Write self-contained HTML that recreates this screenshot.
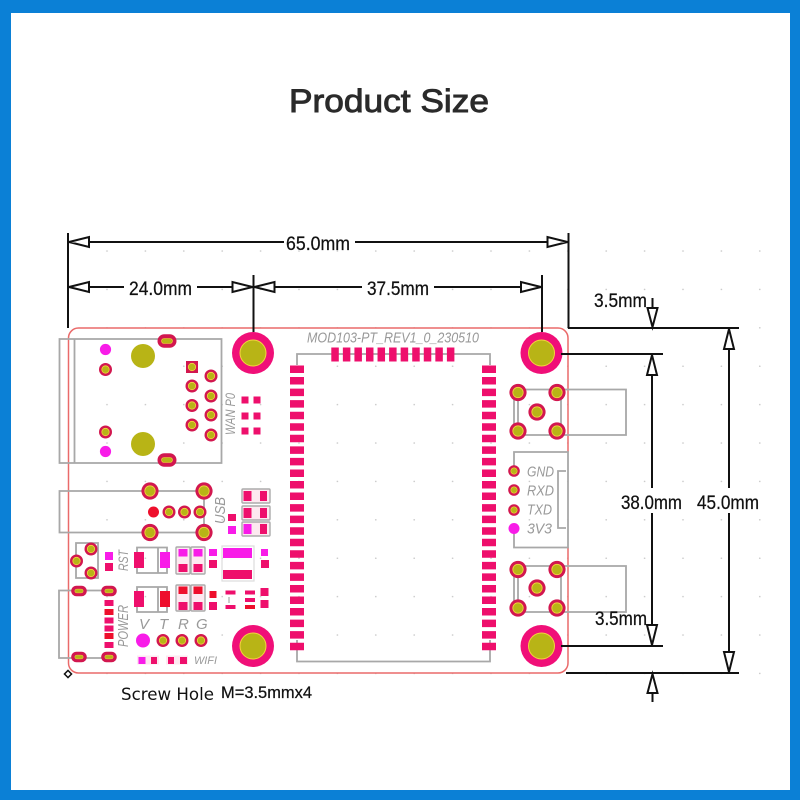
<!DOCTYPE html>
<html>
<head>
<meta charset="utf-8">
<style>
html,body{margin:0;padding:0;background:#fff}
svg{display:block}
.g{fill:none;stroke:#a8a8a8;stroke-width:1.8}
.d{fill:none;stroke:#111;stroke-width:2}
.a{fill:#fff;stroke:#111;stroke-width:2;stroke-linejoin:miter}
.c{fill:#ee0f6c}.m{fill:#f81ce8}.r{fill:#ee0f2c}
.b{fill:#fde9f0;stroke:#ababab;stroke-width:1.4}
.t{font-family:"Liberation Sans",sans-serif;font-style:italic;fill:#999}
.k{font-family:"Liberation Sans",sans-serif;font-size:19.500px;fill:#111;stroke:#111;stroke-width:.25}
</style>
</head>
<body>
<svg width="800" height="800" viewBox="0 0 800 800" xmlns="http://www.w3.org/2000/svg">
<defs>
<g id="p"><circle r="6.500" fill="#d2174f"/><circle r="3.700" fill="#b8b416" stroke="#f5d340" stroke-width=".8"/></g>
<g id="q"><circle r="8.600" fill="#d2174f"/><circle r="5.200" fill="#b8b416" stroke="#f5d340" stroke-width=".8"/></g>
<g id="h"><circle r="21" fill="#f00f78"/><circle r="13" fill="#b8b416" stroke="#f5d340" stroke-width="1"/></g>
<g id="o"><rect x="-9.500" y="-6.800" width="19" height="13.600" rx="6.800" fill="#d2174f"/><rect x="-5.500" y="-2.500" width="11" height="5" rx="2.500" fill="#b8b416" stroke="#f5d340" stroke-width=".6"/></g>
<g id="v"><rect x="-7.800" y="-5.300" width="15.600" height="10.600" rx="5.300" fill="#d2174f"/><rect x="-4.200" y="-1.900" width="8.400" height="3.800" rx="1.900" fill="#b8b416" stroke="#f5d340" stroke-width=".5"/></g>
<pattern id="dots" x="87.800" y="231.800" width="38.400" height="38.400" patternUnits="userSpaceOnUse"><circle cx="19.200" cy="19.200" r=".8" fill="#c4c4c4"/></pattern>
</defs>

<rect width="800" height="800" fill="#0b80d6"/>
<rect x="11" y="13" width="779" height="777" fill="#fff"/>

<text x="289" y="112" font-family="'Liberation Sans',sans-serif" font-size="32" fill="#2a2a2a" stroke="#2a2a2a" stroke-width=".9" textLength="200" lengthAdjust="spacingAndGlyphs">Product Size</text>

<rect x="88" y="232" width="692" height="460" fill="url(#dots)"/>

<!-- board outline -->
<path d="M568 452V338a10 10 0 0 0-10-10H78.500a10 10 0 0 0-10 10V663a10 10 0 0 0 10 10H558a10 10 0 0 0 10-10V547" fill="none" stroke="#ea6a6a" stroke-width="1.500"/>

<!-- ethernet -->
<path class="g" d="M59.500 339H221.500V463H59.500ZM74.500 339V463"/>
<circle cx="105.500" cy="349.500" r="5.600" class="m"/><circle cx="105.500" cy="451.500" r="5.600" class="m"/>
<use href="#p" x="105.500" y="369.500"/><use href="#p" x="105.500" y="432"/>
<circle cx="143" cy="356" r="12" fill="#b8b416"/><circle cx="143" cy="444" r="12" fill="#b8b416"/>
<use href="#o" x="167" y="341"/><use href="#o" x="167" y="460"/>
<rect x="186" y="361" width="12" height="12" fill="#d2174f"/><circle cx="192" cy="367" r="3.700" fill="#b8b416" stroke="#f5d340" stroke-width=".8"/>
<use href="#p" x="192" y="386"/><use href="#p" x="192" y="405.500"/><use href="#p" x="192" y="425"/>
<use href="#p" x="211" y="376"/><use href="#p" x="211" y="396"/><use href="#p" x="211" y="415"/><use href="#p" x="211" y="435"/>
<text class="t" font-size="14" transform="translate(235 435) rotate(-90)" textLength="42" lengthAdjust="spacingAndGlyphs">WAN P0</text>
<g class="c">
<rect x="241.500" y="396.500" width="7" height="7"/><rect x="253.500" y="396.500" width="7" height="7"/>
<rect x="241.500" y="412.500" width="7" height="7"/><rect x="253.500" y="412.500" width="7" height="7"/>
<rect x="241.500" y="427.500" width="7" height="7"/><rect x="253.500" y="427.500" width="7" height="7"/>
</g>

<!-- USB -->
<path class="g" d="M204 491H59.500V532.500H204V491"/>
<use href="#q" x="150" y="491"/><use href="#q" x="204" y="491"/><use href="#q" x="150" y="532.500"/><use href="#q" x="204" y="532.500"/>
<circle cx="153.500" cy="512" r="5.500" class="r"/><use href="#p" x="169" y="512"/><use href="#p" x="184.500" y="512"/><use href="#p" x="200" y="512"/>
<text class="t" font-size="15" transform="translate(225 524) rotate(-90)" textLength="27" lengthAdjust="spacingAndGlyphs">USB</text>
<rect class="b" x="242" y="489" width="28" height="14" rx="1"/><rect class="b" x="242" y="506" width="28" height="14" rx="1"/><rect class="b" x="242" y="522" width="28" height="14" rx="1"/>
<rect class="c" x="243.500" y="491" width="8" height="10"/><rect class="c" x="260" y="491" width="7" height="10"/>
<rect class="c" x="243.500" y="508" width="8" height="10"/><rect class="c" x="260" y="508" width="7" height="10"/>
<rect class="m" x="243.500" y="524" width="8" height="10"/><rect class="c" x="260" y="524" width="7" height="10"/>
<rect class="c" x="228" y="514" width="8" height="7"/><rect class="m" x="228" y="526" width="8" height="8"/>

<!-- RST -->
<path class="g" d="M76 561V543H98V578H76V561"/>
<use href="#p" x="91" y="549"/><use href="#p" x="76.500" y="561"/><use href="#p" x="91" y="573"/>
<rect class="m" x="105" y="552" width="8" height="8"/><rect class="c" x="105" y="563" width="8" height="8"/>
<text class="t" font-size="14" transform="translate(128 571) rotate(-90)" textLength="21" lengthAdjust="spacingAndGlyphs">RST</text>
<path class="g" d="M137 547.500H167V573H137ZM158 547.500V573"/>
<rect class="c" x="134" y="552" width="10" height="16"/><rect class="m" x="160" y="552" width="10" height="16"/>
<rect class="b" x="176" y="547" width="14" height="27" rx="1"/><rect class="b" x="191" y="547" width="14" height="27" rx="1"/>
<rect class="m" x="178.500" y="549" width="9" height="7.500"/><rect class="c" x="178.500" y="564" width="9" height="8"/>
<rect class="m" x="193.500" y="549" width="9" height="7.500"/><rect class="c" x="193.500" y="564" width="9" height="8"/>
<rect class="m" x="209" y="549" width="8" height="7"/><rect class="c" x="209" y="560" width="8" height="8"/>
<path d="M222 546H254V581H222Z" fill="none" stroke="#ddd" stroke-width="1.200"/>
<rect class="m" x="223" y="548" width="29" height="10"/><rect class="c" x="223" y="570" width="29" height="9"/>
<rect class="m" x="261" y="549" width="7" height="7"/><rect class="c" x="261" y="560" width="8" height="8"/>

<!-- second row -->
<path class="g" d="M137 587H167V612H137ZM158 587V612"/>
<rect class="c" x="134" y="591" width="10" height="16"/><rect class="r" x="160" y="591" width="10" height="16"/>
<rect class="b" x="176" y="585" width="14" height="26" rx="1"/><rect class="b" x="191" y="585" width="14" height="26" rx="1"/>
<rect class="r" x="178.500" y="586.500" width="9" height="7.500"/><rect class="c" x="178.500" y="602" width="9" height="8"/>
<rect class="r" x="193.500" y="586.500" width="9" height="7.500"/><rect class="c" x="193.500" y="602" width="9" height="8"/>
<rect class="r" x="209.500" y="591" width="7" height="7"/><rect class="c" x="209" y="602" width="8" height="8"/>
<rect class="c" x="225.500" y="590.500" width="10" height="4"/><rect class="c" x="225.500" y="605" width="10" height="4"/><path d="M229 597V603" stroke="#999" stroke-width="1"/>
<rect class="c" x="245" y="590.500" width="10" height="4"/><rect class="c" x="245" y="598" width="10" height="4"/><rect class="r" x="245" y="605" width="10" height="4"/>
<rect class="c" x="260.500" y="588" width="8" height="8"/><rect class="c" x="260.500" y="600" width="8" height="8"/>

<!-- micro USB -->
<path class="g" d="M109 590.500H59V658H109"/>
<use href="#v" x="79" y="591"/><use href="#v" x="109" y="591"/><use href="#v" x="79" y="657"/><use href="#v" x="109" y="657"/>
<rect class="c" x="104.500" y="600" width="9" height="6"/><rect class="r" x="104.500" y="609" width="9" height="6"/><rect class="c" x="104.500" y="617.500" width="9" height="6"/><rect class="c" x="104.500" y="625.500" width="9" height="6"/><rect class="r" x="104.500" y="633" width="9" height="6"/><rect class="c" x="104.500" y="642" width="9" height="6"/>
<text class="t" font-size="15" transform="translate(128 647) rotate(-90)" textLength="42" lengthAdjust="spacingAndGlyphs">POWER</text>
<text class="t" font-size="15" x="139" y="629">V</text><text class="t" font-size="15" x="159" y="629">T</text><text class="t" font-size="15" x="178" y="629">R</text><text class="t" font-size="15" x="196" y="629">G</text>
<circle cx="143" cy="640.500" r="7" class="m"/><use href="#p" x="163" y="640.500"/><use href="#p" x="182" y="640.500"/><use href="#p" x="201" y="640.500"/>
<rect x="137" y="655.500" width="22" height="9" fill="#fde9f0"/><rect x="166" y="655.500" width="22" height="9" fill="#fde9f0"/>
<rect class="m" x="138.500" y="657" width="7" height="7"/><rect class="c" x="151" y="657" width="6" height="7"/>
<rect class="c" x="168" y="657" width="6" height="7"/><rect class="c" x="180" y="657" width="7" height="7"/>
<text class="t" font-size="11" x="194" y="664" textLength="23" lengthAdjust="spacingAndGlyphs">WIFI</text>
<rect x="65.500" y="671.500" width="5" height="5" transform="rotate(45 68 674)" fill="#fff" stroke="#111" stroke-width="1.500"/>

<!-- module -->
<text class="t" font-size="15" x="307" y="342.500" textLength="172" lengthAdjust="spacingAndGlyphs">MOD103-PT_REV1_0_230510</text>
<path class="g" d="M297 365V354H490V365M297 640V661.500H490V640"/>
<path d="M331.300 354.500H455" stroke="#ee0f6c" stroke-width="14" stroke-dasharray="7.500 4.060" fill="none"/>
<path d="M297 365.500V650.500M489 365.500V650.500" stroke="#ee0f6c" stroke-width="14" stroke-dasharray="7.500 4.050" fill="none"/>

<!-- holes -->
<use href="#h" x="253" y="353"/><use href="#h" x="541.500" y="353"/><use href="#h" x="253" y="646"/><use href="#h" x="541.500" y="646"/>

<!-- right side -->
<path class="g" d="M518 389.500H626V435H518ZM514 392V431M561 392V431"/>
<use href="#q" x="518" y="392.500"/><use href="#q" x="557" y="392.500"/><use href="#q" x="518" y="431"/><use href="#q" x="557" y="431"/>
<use href="#q" x="537" y="412"/>
<path class="g" d="M518 566H626V612H518ZM514 570V608M561 570V608"/>
<use href="#q" x="518" y="569.500"/><use href="#q" x="557" y="569.500"/><use href="#q" x="518" y="608"/><use href="#q" x="557" y="608"/>
<use href="#q" x="537" y="588"/>
<path class="g" d="M514 471V452H568V547.500H514V528M566 471H558V528H566"/>
<circle cx="514" cy="471" r="5.800" fill="#d2174f"/><circle cx="514" cy="471" r="3.200" fill="#b8b416" stroke="#f5d340" stroke-width=".6"/>
<circle cx="514" cy="490" r="5.800" fill="#d2174f"/><circle cx="514" cy="490" r="3.200" fill="#b8b416" stroke="#f5d340" stroke-width=".6"/>
<circle cx="514" cy="510" r="5.800" fill="#d2174f"/><circle cx="514" cy="510" r="3.200" fill="#b8b416" stroke="#f5d340" stroke-width=".6"/>
<circle cx="514" cy="528.500" r="5.500" class="m"/>
<text class="t" font-size="14.500" x="527" y="476.500" textLength="27" lengthAdjust="spacingAndGlyphs">GND</text>
<text class="t" font-size="14.500" x="527" y="495.500" textLength="27" lengthAdjust="spacingAndGlyphs">RXD</text>
<text class="t" font-size="14.500" x="527" y="514.500" textLength="25" lengthAdjust="spacingAndGlyphs">TXD</text>
<text class="t" font-size="14.500" x="527" y="533.500" textLength="25" lengthAdjust="spacingAndGlyphs">3V3</text>

<!-- horizontal dimensions -->
<path class="d" d="M68 233V328M568.500 233V328M253.500 275V332M542 275V332"/>
<path class="d" d="M68 242H284M355 242H568.500M68 287H124M197 287H253.500M253.500 287H362M434 287H542"/>
<path class="a" d="M69 242L89 237V247ZM567.500 242L547.500 237V247ZM69 287L89 282V292ZM252.500 287L232.500 282V292ZM254.500 287L274.500 282V292ZM541 287L521 282V292Z"/>
<text class="k" x="286" y="250" textLength="64" lengthAdjust="spacingAndGlyphs">65.0mm</text>
<text class="k" x="129" y="295" textLength="63" lengthAdjust="spacingAndGlyphs">24.0mm</text>
<text class="k" x="367" y="295" textLength="62" lengthAdjust="spacingAndGlyphs">37.5mm</text>

<!-- vertical dimensions -->
<path class="d" d="M568 328H739M561 354H663M561 646H663M566 673H739"/>
<path class="d" d="M652 354V488M652 513V646M729 328V488M729 513V673M652.500 298V327M652.500 674V702"/>
<path class="a" d="M652 355L647 375H657ZM652 645L647 625H657ZM729 329L724 349H734ZM729 672L724 652H734ZM652.500 327L647.500 308H657.500ZM652.500 674L647.500 693H657.500Z"/>
<text class="k" x="621" y="509" textLength="61" lengthAdjust="spacingAndGlyphs">38.0mm</text>
<text class="k" x="697" y="509" textLength="62" lengthAdjust="spacingAndGlyphs">45.0mm</text>
<text class="k" x="594" y="307" textLength="53" lengthAdjust="spacingAndGlyphs">3.5mm</text>
<text class="k" x="595" y="625" textLength="52" lengthAdjust="spacingAndGlyphs">3.5mm</text>

<text x="121" y="700" font-family="'DejaVu Sans',sans-serif" font-size="17" fill="#111" textLength="93" lengthAdjust="spacingAndGlyphs">Screw Hole</text>
<text x="221" y="698" font-family="'Liberation Sans',sans-serif" font-size="17" fill="#111" stroke="#111" stroke-width=".25" textLength="91" lengthAdjust="spacingAndGlyphs">M=3.5mmx4</text>
</svg>
</body>
</html>
